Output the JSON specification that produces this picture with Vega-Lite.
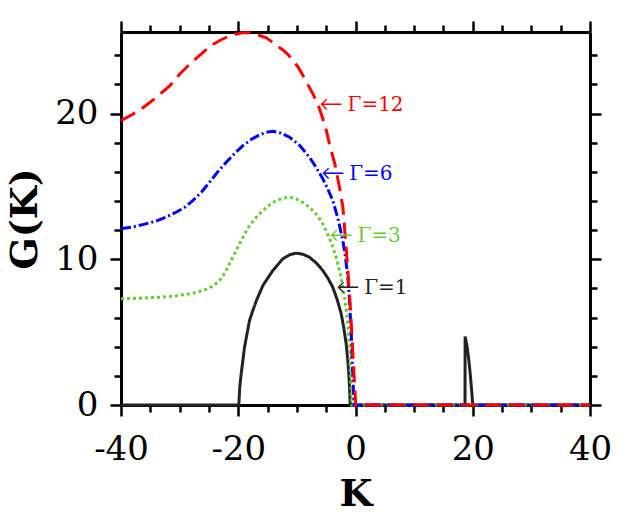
{
  "$schema": "https://vega.github.io/schema/vega-lite/v6.json",
  "width": 469,
  "height": 373,
  "autosize": {"type": "none"},
  "padding": {"left": 121, "top": 32, "right": 54, "bottom": 115},
  "background": "white",
  "config": {
    "view": {"stroke": null},
    "axis": {
      "grid": false,
      "domainColor": "#000000",
      "domainWidth": 3,
      "tickColor": "#000000",
      "tickWidth": 2.5,
      "labelFont": "DejaVu Serif",
      "labelFontSize": 34,
      "labelColor": "#000000",
      "labelFlush": false,
      "labelOverlap": false,
      "labelBound": false,
      "titleFont": "DejaVu Serif",
      "titleFontSize": 38,
      "titleFontWeight": "bold",
      "titleColor": "#000000"
    }
  },
  "datasets": {
    "curves": [
      {"series": "Γ=1", "k": -40, "g": 0},
      {"series": "Γ=1", "k": -19.9, "g": 0},
      {"series": "Γ=1", "k": -19.75, "g": 1.2},
      {"series": "Γ=1", "k": -19.5, "g": 2.14},
      {"series": "Γ=1", "k": -19.2, "g": 3.1},
      {"series": "Γ=1", "k": -18.93, "g": 3.97},
      {"series": "Γ=1", "k": -18.5, "g": 4.9},
      {"series": "Γ=1", "k": -18.08, "g": 5.8},
      {"series": "Γ=1", "k": -17.5, "g": 6.5},
      {"series": "Γ=1", "k": -16.9, "g": 7.17},
      {"series": "Γ=1", "k": -15.8, "g": 8.2},
      {"series": "Γ=1", "k": -14.1, "g": 9.23},
      {"series": "Γ=1", "k": -12.4, "g": 10.03},
      {"series": "Γ=1", "k": -11.2, "g": 10.32},
      {"series": "Γ=1", "k": -10.1, "g": 10.42},
      {"series": "Γ=1", "k": -9, "g": 10.35},
      {"series": "Γ=1", "k": -7.85, "g": 10.14},
      {"series": "Γ=1", "k": -6.7, "g": 9.75},
      {"series": "Γ=1", "k": -5.58, "g": 9.23},
      {"series": "Γ=1", "k": -4.7, "g": 8.7},
      {"series": "Γ=1", "k": -3.87, "g": 8.08},
      {"series": "Γ=1", "k": -3.1, "g": 7.2},
      {"series": "Γ=1", "k": -2.44, "g": 6.26},
      {"series": "Γ=1", "k": -2.0, "g": 5.3},
      {"series": "Γ=1", "k": -1.59, "g": 4.2},
      {"series": "Γ=1", "k": -1.3, "g": 3.0},
      {"series": "Γ=1", "k": -1.14, "g": 2.14},
      {"series": "Γ=1", "k": -1.0, "g": 1.1},
      {"series": "Γ=1", "k": -0.9, "g": 0},
      {"series": "Γ=1", "k": 18.68, "g": 0},
      {"series": "Γ=1", "k": 18.7, "g": 4.7},
      {"series": "Γ=1", "k": 19.0, "g": 4.1},
      {"series": "Γ=1", "k": 19.3, "g": 3.2},
      {"series": "Γ=1", "k": 19.6, "g": 2.0},
      {"series": "Γ=1", "k": 19.85, "g": 0.8},
      {"series": "Γ=1", "k": 20, "g": 0},
      {"series": "Γ=1", "k": 40, "g": 0},

      {"series": "Γ=3", "k": -40, "g": 7.29},
      {"series": "Γ=3", "k": -37, "g": 7.33},
      {"series": "Γ=3", "k": -33.4, "g": 7.4},
      {"series": "Γ=3", "k": -30.5, "g": 7.5},
      {"series": "Γ=3", "k": -27.75, "g": 7.67},
      {"series": "Γ=3", "k": -26, "g": 7.85},
      {"series": "Γ=3", "k": -24.9, "g": 8.04},
      {"series": "Γ=3", "k": -24, "g": 8.25},
      {"series": "Γ=3", "k": -23.2, "g": 8.54},
      {"series": "Γ=3", "k": -22.3, "g": 9.05},
      {"series": "Γ=3", "k": -21.5, "g": 9.69},
      {"series": "Γ=3", "k": -20.6, "g": 10.4},
      {"series": "Γ=3", "k": -19.8, "g": 11.06},
      {"series": "Γ=3", "k": -18.9, "g": 11.75},
      {"series": "Γ=3", "k": -18.1, "g": 12.3},
      {"series": "Γ=3", "k": -17, "g": 12.85},
      {"series": "Γ=3", "k": -15.8, "g": 13.34},
      {"series": "Γ=3", "k": -14.6, "g": 13.75},
      {"series": "Γ=3", "k": -13.5, "g": 14.03},
      {"series": "Γ=3", "k": -12.3, "g": 14.2},
      {"series": "Γ=3", "k": -11.25, "g": 14.26},
      {"series": "Γ=3", "k": -10.1, "g": 14.15},
      {"series": "Γ=3", "k": -9.0, "g": 13.91},
      {"series": "Γ=3", "k": -7.8, "g": 13.55},
      {"series": "Γ=3", "k": -6.7, "g": 13.1},
      {"series": "Γ=3", "k": -5.8, "g": 12.6},
      {"series": "Γ=3", "k": -5.0, "g": 11.97},
      {"series": "Γ=3", "k": -4.1, "g": 11.1},
      {"series": "Γ=3", "k": -3.3, "g": 10.14},
      {"series": "Γ=3", "k": -2.7, "g": 9.2},
      {"series": "Γ=3", "k": -2.16, "g": 8.08},
      {"series": "Γ=3", "k": -1.8, "g": 7.2},
      {"series": "Γ=3", "k": -1.5, "g": 6.26},
      {"series": "Γ=3", "k": -1.2, "g": 5.0},
      {"series": "Γ=3", "k": -1.0, "g": 3.5},
      {"series": "Γ=3", "k": -0.8, "g": 1.6},
      {"series": "Γ=3", "k": -0.65, "g": 0},
      {"series": "Γ=3", "k": 40, "g": 0},

      {"series": "Γ=6", "k": -40, "g": 12.09},
      {"series": "Γ=6", "k": -38, "g": 12.22},
      {"series": "Γ=6", "k": -36.3, "g": 12.38},
      {"series": "Γ=6", "k": -34, "g": 12.62},
      {"series": "Γ=6", "k": -32.3, "g": 12.9},
      {"series": "Γ=6", "k": -30.6, "g": 13.23},
      {"series": "Γ=6", "k": -29, "g": 13.6},
      {"series": "Γ=6", "k": -27.75, "g": 14.03},
      {"series": "Γ=6", "k": -26.3, "g": 14.6},
      {"series": "Γ=6", "k": -24.9, "g": 15.29},
      {"series": "Γ=6", "k": -23.5, "g": 16.0},
      {"series": "Γ=6", "k": -22.05, "g": 16.66},
      {"series": "Γ=6", "k": -20.6, "g": 17.27},
      {"series": "Γ=6", "k": -19.2, "g": 17.8},
      {"series": "Γ=6", "k": -17.8, "g": 18.22},
      {"series": "Γ=6", "k": -16.4, "g": 18.54},
      {"series": "Γ=6", "k": -15.2, "g": 18.72},
      {"series": "Γ=6", "k": -14.1, "g": 18.79},
      {"series": "Γ=6", "k": -12.7, "g": 18.66},
      {"series": "Γ=6", "k": -11.25, "g": 18.38},
      {"series": "Γ=6", "k": -9.5, "g": 17.8},
      {"series": "Γ=6", "k": -7.85, "g": 17.0},
      {"series": "Γ=6", "k": -6.7, "g": 16.3},
      {"series": "Γ=6", "k": -5.57, "g": 15.52},
      {"series": "Γ=6", "k": -4.7, "g": 14.8},
      {"series": "Γ=6", "k": -3.87, "g": 14.03},
      {"series": "Γ=6", "k": -3.0, "g": 12.8},
      {"series": "Γ=6", "k": -2.16, "g": 11.29},
      {"series": "Γ=6", "k": -1.7, "g": 10.1},
      {"series": "Γ=6", "k": -1.3, "g": 8.77},
      {"series": "Γ=6", "k": -1.0, "g": 7.0},
      {"series": "Γ=6", "k": -0.73, "g": 4.9},
      {"series": "Γ=6", "k": -0.45, "g": 2.0},
      {"series": "Γ=6", "k": -0.3, "g": 0.5},
      {"series": "Γ=6", "k": -0.25, "g": 0},
      {"series": "Γ=6", "k": 40, "g": 0},

      {"series": "Γ=12", "k": -40, "g": 19.52},
      {"series": "Γ=12", "k": -38, "g": 19.95},
      {"series": "Γ=12", "k": -36.3, "g": 20.39},
      {"series": "Γ=12", "k": -34, "g": 21.1},
      {"series": "Γ=12", "k": -31.7, "g": 21.9},
      {"series": "Γ=12", "k": -30, "g": 22.7},
      {"series": "Γ=12", "k": -28, "g": 23.5},
      {"series": "Γ=12", "k": -26, "g": 24.2},
      {"series": "Γ=12", "k": -24.5, "g": 24.7},
      {"series": "Γ=12", "k": -23, "g": 25.05},
      {"series": "Γ=12", "k": -21.8, "g": 25.28},
      {"series": "Γ=12", "k": -20.5, "g": 25.45},
      {"series": "Γ=12", "k": -19.3, "g": 25.55},
      {"series": "Γ=12", "k": -18, "g": 25.55},
      {"series": "Γ=12", "k": -16.8, "g": 25.42},
      {"series": "Γ=12", "k": -15.2, "g": 25.2},
      {"series": "Γ=12", "k": -13.8, "g": 24.78},
      {"series": "Γ=12", "k": -12.5, "g": 24.4},
      {"series": "Γ=12", "k": -11.5, "g": 24.05},
      {"series": "Γ=12", "k": -9.8, "g": 23.2},
      {"series": "Γ=12", "k": -8.4, "g": 22.2},
      {"series": "Γ=12", "k": -7.2, "g": 21.3},
      {"series": "Γ=12", "k": -6.2, "g": 20.4},
      {"series": "Γ=12", "k": -5.2, "g": 19.2},
      {"series": "Γ=12", "k": -4.44, "g": 17.92},
      {"series": "Γ=12", "k": -3.5, "g": 16.5},
      {"series": "Γ=12", "k": -2.73, "g": 14.94},
      {"series": "Γ=12", "k": -2.16, "g": 13.6},
      {"series": "Γ=12", "k": -1.59, "g": 10.8},
      {"series": "Γ=12", "k": -1.0, "g": 7.5},
      {"series": "Γ=12", "k": -0.73, "g": 5.6},
      {"series": "Γ=12", "k": -0.34, "g": 2.7},
      {"series": "Γ=12", "k": 0, "g": 0.3},
      {"series": "Γ=12", "k": 0.05, "g": 0},
      {"series": "Γ=12", "k": 40, "g": 0}
    ],
    "labels": [
      {"series": "Γ=12", "k": -6.14, "g": 20.62, "label": "Γ=12"},
      {"series": "Γ=6", "k": -5.85, "g": 15.86, "label": "Γ=6"},
      {"series": "Γ=3", "k": -4.44, "g": 11.63, "label": "Γ=3"},
      {"series": "Γ=1", "k": -3.29, "g": 8.04, "label": "Γ=1"}
    ]
  },
  "layer": [
    {
      "data": {"name": "curves"},
      "mark": {"type": "line", "strokeWidth": 3},
      "encoding": {
        "x": {
          "field": "k",
          "type": "quantitative",
          "scale": {"domain": [-40, 40], "nice": false},
          "axis": {
            "orient": "bottom",
            "title": "K",
            "titlePadding": 9,
            "values": [-40, -35, -30, -25, -20, -15, -10, -5, 0, 5, 10, 15, 20, 25, 30, 35, 40],
            "labelExpr": "datum.value % 20 === 0 ? '' + datum.value : ''",
            "tickSize": {"condition": {"test": "datum.value % 20 === 0", "value": 11}, "value": 7},
            "labelPadding": 16
          }
        },
        "y": {
          "field": "g",
          "type": "quantitative",
          "scale": {"domain": [0, 25.6], "nice": false},
          "axis": {
            "orient": "left",
            "title": "G(K)",
            "titlePadding": 10,
            "values": [0, 2, 4, 6, 8, 10, 12, 14, 16, 18, 20, 22, 24],
            "labelExpr": "datum.value % 10 === 0 ? '' + datum.value : ''",
            "tickSize": {"condition": {"test": "datum.value % 10 === 0", "value": 11}, "value": 7},
            "labelPadding": 12
          }
        },
        "color": {
          "field": "series",
          "type": "nominal",
          "scale": {
            "domain": ["Γ=1", "Γ=3", "Γ=6", "Γ=12"],
            "range": ["#222222", "#66cc33", "#0000ff", "#ff0000"]
          },
          "legend": null
        },
        "strokeDash": {
          "field": "series",
          "type": "nominal",
          "scale": {
            "domain": ["Γ=1", "Γ=3", "Γ=6", "Γ=12"],
            "range": [[1, 0], [3, 3], [10, 3, 2, 3], [16, 8]]
          },
          "legend": null
        }
      }
    },
    {
      "data": {"name": "labels"},
      "mark": {"type": "text", "text": "←", "align": "left", "baseline": "middle", "font": "DejaVu Sans", "fontSize": 28, "fontWeight": 200},
      "encoding": {
        "x": {"field": "k", "type": "quantitative", "axis": null},
        "y": {"field": "g", "type": "quantitative", "axis": null},
        "color": {"field": "series", "type": "nominal", "legend": null}
      }
    },
    {
      "data": {"name": "labels"},
      "mark": {"type": "text", "align": "left", "baseline": "middle", "dx": 28, "font": "DejaVu Serif", "fontSize": 20},
      "encoding": {
        "x": {
          "field": "k",
          "type": "quantitative",
          "axis": {
            "orient": "top",
            "title": null,
            "labels": false,
            "values": [-40, -35, -30, -25, -20, -15, -10, -5, 0, 5, 10, 15, 20, 25, 30, 35, 40],
            "tickSize": {"condition": {"test": "datum.value % 20 === 0", "value": 11}, "value": 7}
          }
        },
        "y": {
          "field": "g",
          "type": "quantitative",
          "axis": {
            "orient": "right",
            "title": null,
            "labels": false,
            "values": [0, 2, 4, 6, 8, 10, 12, 14, 16, 18, 20, 22, 24],
            "tickSize": {"condition": {"test": "datum.value % 10 === 0", "value": 11}, "value": 7}
          }
        },
        "text": {"field": "label"},
        "color": {"field": "series", "type": "nominal", "legend": null}
      }
    }
  ],
  "resolve": {"axis": {"x": "independent", "y": "independent"}}
}
